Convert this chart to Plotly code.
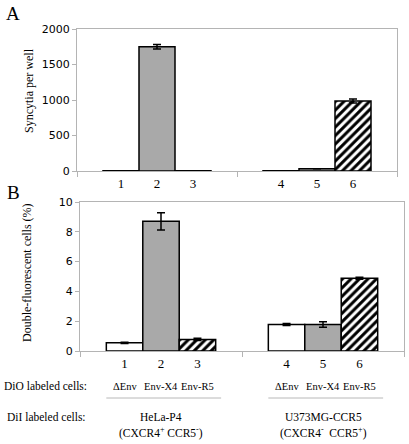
import plotly.graph_objects as go

# ---------------- data ----------------
groups = ["HeLa-P4", "U373MG-CCR5"]
group_sub = ["(CXCR4<sup>+</sup> CCR5<sup>-</sup>)", "(CXCR4<sup>-</sup>  CCR5<sup>+</sup>)"]
series = ["ΔEnv", "Env-X4", "Env-R5"]
bar_labels = ["1", "2", "3", "4", "5", "6"]

# Panel A: syncytia per well  (per series, per group)
syn_denv = [5, 5]
syn_x4 = [1750, 30]
syn_r5 = [5, 985]
syn_denv_err = [0, 0]
syn_x4_err = [30, 0]
syn_r5_err = [0, 28]

# Panel B: double-fluorescent cells (%)
dfc_denv = [0.55, 1.78]
dfc_x4 = [8.7, 1.78]
dfc_r5 = [0.78, 4.88]
dfc_denv_err = [0.04, 0.07]
dfc_x4_err = [0.58, 0.18]
dfc_r5_err = [0.08, 0.07]

# ---------------- layout helpers ----------------
W, H = 409, 444
BW = 0.225  # bar width in category units
SERIF = "Liberation Serif, Times New Roman, serif"
SANS = "DejaVu Sans, sans-serif"
AX = "#b4b4b4"

def px(x):
    return x / W

def py(y):
    return 1 - y / H

def xpos(s):
    return [g + 0.5 + (s - 1) * BW for g in range(len(groups))]

fills = [
    dict(color="white", line=dict(color="black", width=1.5)),
    dict(color="#a9a9a9", line=dict(color="black", width=1.5)),
    dict(color="white", line=dict(color="black", width=1.5),
         pattern=dict(shape="/", fgcolor="black", fgopacity=1, bgcolor="white",
                      size=6, solidity=0.5)),
]

fig = go.Figure()
A_vals = [(syn_denv, syn_denv_err), (syn_x4, syn_x4_err), (syn_r5, syn_r5_err)]
B_vals = [(dfc_denv, dfc_denv_err), (dfc_x4, dfc_x4_err), (dfc_r5, dfc_r5_err)]
for s in range(3):
    v, e = A_vals[s]
    fig.add_trace(go.Bar(x=xpos(s), y=v, width=BW, marker=fills[s], name=series[s],
                         error_y=dict(type="data", array=e, visible=True, color="black",
                                      thickness=1.5, width=4),
                         xaxis="x", yaxis="y", showlegend=False))
    v, e = B_vals[s]
    fig.add_trace(go.Bar(x=xpos(s), y=v, width=BW, marker=fills[s], name=series[s],
                         error_y=dict(type="data", array=e, visible=True, color="black",
                                      thickness=1.5, width=4),
                         xaxis="x2", yaxis="y2", showlegend=False))

tickpos = [g + 0.5 + (s - 1) * BW for g in range(len(groups)) for s in range(3)]

def xaxis(domain, anchor):
    return dict(domain=domain, anchor=anchor, range=[0, 2], showgrid=False, zeroline=False,
                showline=True, linecolor=AX, linewidth=1, mirror=True, automargin=False,
                tickmode="array", tickvals=tickpos, ticktext=bar_labels, ticks="",
                tickfont=dict(family=SERIF, size=13, color="black"),
                minor=dict(tickmode="array", tickvals=[0, 1, 2], ticks="outside",
                           ticklen=5, tickcolor=AX, showgrid=False))

def yaxis(domain, anchor, rng, dtick):
    return dict(domain=domain, anchor=anchor, range=rng, dtick=dtick, showgrid=False,
                zeroline=False, showline=True, linecolor=AX, linewidth=1, mirror=True,
                automargin=False, ticks="outside", ticklen=4, tickcolor=AX,
                tickfont=dict(family=SANS, size=11, color="black"))

fig.update_layout(
    width=W, height=H, autosize=False, margin=dict(l=0, r=0, t=0, b=0, autoexpand=False),
    paper_bgcolor="white", plot_bgcolor="white", barmode="overlay", hovermode=False,
    xaxis=xaxis([px(77), px(397)], "y"),
    yaxis=yaxis([py(171), py(29)], "x", [0, 2000], 500),
    xaxis2=xaxis([px(80), px(404)], "y2"),
    yaxis2=yaxis([py(351), py(202)], "x2", [0, 10], 2),
)

def ann(text, x, y, size=12, xref="paper", angle=0, xanchor="center"):
    fig.add_annotation(text=text, x=px(x) if xref == "paper" else x, y=py(y),
                       xref=xref, yref="paper", showarrow=False, textangle=angle,
                       xanchor=xanchor, yanchor="middle",
                       font=dict(family=SERIF, size=size, color="black"))

ann("A", 13, 13, size=19)
ann("B", 13, 192, size=19)
ann("Syncytia per well", 29, 90, angle=-90)
ann("Double-fluorescent cells (%)", 27, 273, angle=-90)
ann("DiO labeled cells:", 45, 386, size=11.5)
ann("DiI labeled cells:", 46, 417, size=11.5)
for g in range(len(groups)):
    for s in range(3):
        ann(series[s], g + 0.5 + (s - 1) * BW, 386, size=10.5, xref="x2")
    ann(groups[g], g + 0.5, 417, size=11.5, xref="x2")
    ann(group_sub[g], g + 0.5, 432, size=11.5, xref="x2")
    fig.add_shape(type="line", xref="x2", yref="paper",
                  x0=g + 0.5 - 1.5 * BW, x1=g + 0.5 + 1.65 * BW,
                  y0=py(398), y1=py(398), line=dict(color="#b8b8b8", width=1))

fig.write_html("out.html", config={"displayModeBar": False, "staticPlot": True},
               post_script="document.body.style.margin='0';document.body.style.overflow='hidden';")
